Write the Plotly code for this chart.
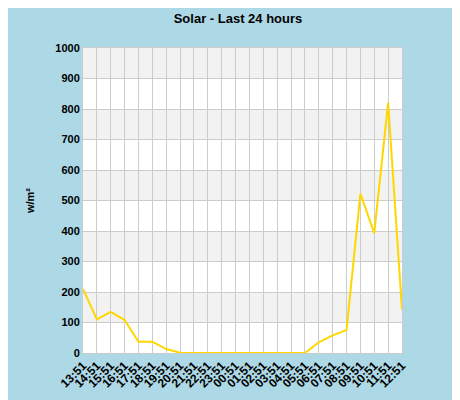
import plotly.graph_objects as go

hours = ['13:51', '14:51', '15:51', '16:51', '17:51', '18:51', '19:51', '20:51',
         '21:51', '22:51', '23:51', '00:51', '01:51', '02:51', '03:51', '04:51',
         '05:51', '06:51', '07:51', '08:51', '09:51', '10:51', '11:51', '12:51']
solar = [210, 110, 135, 108, 37, 37, 13, 1,
         0, 0, 0, 0, 0, 0, 0, 0,
         0, 35, 58, 75, 522, 393, 820, 142]

fig = go.Figure()

# alternating grey bands
for lo in range(100, 1000, 200):
    fig.add_shape(type='rect', xref='paper', yref='y', x0=0, x1=1, y0=lo, y1=lo + 100,
                  fillcolor='#f2f2f2', line_width=0, layer='below')

fig.add_trace(go.Scatter(x=list(range(len(hours))), y=solar, mode='lines',
                         line=dict(color='#ffd700', width=2), hoverinfo='y'))

fig.update_layout(
    width=460, height=400,
    paper_bgcolor='#add8e6', plot_bgcolor='white',
    margin=dict(l=75, r=66, t=40, b=55),
    showlegend=False,
    font=dict(family='Liberation Sans, Arial', size=11, color='black'),
    title=dict(text='<b>Solar - Last 24 hours</b>', x=0.5, xanchor='center',
               y=0.985, yanchor='top', font=dict(size=13)),
)
fig.update_xaxes(
    range=[0, len(hours) - 1], tickmode='array', tickvals=list(range(len(hours))),
    ticktext=['<b>%s</b>' % h for h in hours], tickangle=-45, tickfont=dict(size=12),
    showgrid=True, gridcolor='#cccccc', zeroline=False, automargin=False,
    showline=True, linecolor='#cccccc', mirror=True, ticks='',
)
fig.update_yaxes(
    range=[0, 1000], dtick=100, tickformat='d', automargin=False,
    showgrid=True, gridcolor='#cccccc', zeroline=False,
    showline=True, linecolor='#cccccc', mirror=True,
    tickfont=dict(size=11), ticks='',
    tickprefix='<b>', ticksuffix='</b>',
    title=dict(text='<b>w/m²</b>', font=dict(size=11), standoff=18),
)

fig.write_html('out.html')
